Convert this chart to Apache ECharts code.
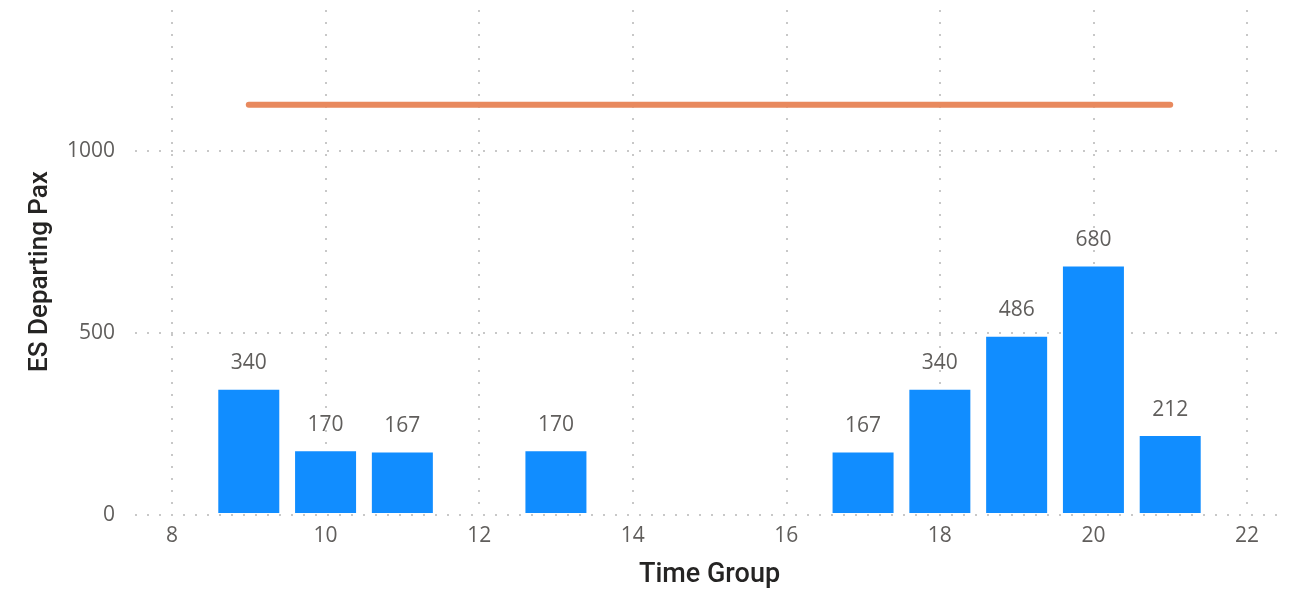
<!DOCTYPE html>
<html>
<head>
<meta charset="utf-8" />
<script src="https://cdn.jsdelivr.net/npm/echarts@6/dist/echarts.min.js"></script>
<style>
  html, body { margin: 0; padding: 0; background: #fff; }
  #myChart { width: 1297px; height: 594px; }
</style>
</head>
<body>
<div id="myChart"></div>
<script>
// data
var timeGroups = [9, 10, 11, 13, 17, 18, 19, 20, 21];
var departingPax = [340, 170, 167, 170, 167, 340, 486, 680, 212];
var targetX = [9, 21];
var targetPax = [1126, 1126];
var yTicks = [0, 500, 1000];
var xTicks = [8, 10, 12, 14, 16, 18, 20, 22];

var labelFont = "'Open Sans', 'Noto Sans', sans-serif";
var titleFont = "Roboto, 'DejaVu Sans', sans-serif";
var yMax = 1387;

var chartDom = echarts.init(document.getElementById("myChart"));
var option = {
  animation: false,
  grid: [
    // wide grid: only carries the horizontal grid lines and y labels
    { left: 135, right: 20, top: 10, bottom: 79 },
    // data grid
    { left: 172, right: 50, top: 10, bottom: 79 },
  ],
  xAxis: [
    {
      gridIndex: 0,
      type: "value",
      min: 0,
      max: 1,
      show: false,
    },
    {
      gridIndex: 1,
      type: "value",
      min: xTicks[0],
      max: xTicks[xTicks.length - 1],
      interval: 2,
      name: "Time Group",
      nameLocation: "middle",
      nameGap: 49,
      nameTextStyle: {
        fontFamily: titleFont,
        fontWeight: 500,
        fontSize: 27,
        color: "#252423",
      },
      axisLine: { show: false },
      axisTick: { show: false },
      axisLabel: {
        margin: 13,
        fontFamily: labelFont,
        fontSize: 21,
        color: "#605E5C",
      },
      splitLine: {
        show: true,
        lineStyle: {
          color: "#C8C8C8",
          type: [2, 10],
          width: 2,
        },
      },
    },
  ],
  yAxis: [
    {
      gridIndex: 0,
      type: "value",
      min: yTicks[0],
      max: yMax,
      interval: 500,
      name: "ES Departing Pax",
      nameLocation: "middle",
      nameGap: 82,
      nameTextStyle: {
        fontFamily: titleFont,
        fontWeight: 500,
        fontSize: 26,
        color: "#252423",
        padding: [0, 18, 0, 0],
      },
      axisLine: { show: false },
      axisTick: { show: false },
      axisLabel: {
        margin: 20,
        showMaxLabel: false,
        fontFamily: labelFont,
        fontSize: 21,
        color: "#605E5C",
        formatter: function (v) {
          return String(v);
        },
      },
      splitLine: {
        show: true,
        showMaxLine: false,
        lineStyle: {
          color: "#C8C8C8",
          type: [2, 10],
          width: 2,
        },
      },
    },
    {
      gridIndex: 1,
      type: "value",
      min: yTicks[0],
      max: yMax,
      show: false,
      splitLine: { show: false },
    },
  ],
  series: [
    {
      name: "ES Departing Pax",
      type: "bar",
      xAxisIndex: 1,
      yAxisIndex: 1,
      barWidth: 61,
      itemStyle: { color: "#118DFF" },
      label: {
        show: true,
        position: "top",
        distance: 16,
        fontFamily: labelFont,
        fontSize: 21,
        color: "#605E5C",
      },
      data: timeGroups.map(function (t, i) {
        return [t, departingPax[i]];
      }),
    },
    {
      name: "Target",
      type: "line",
      xAxisIndex: 1,
      yAxisIndex: 1,
      symbol: "none",
      lineStyle: { color: "#E8895E", width: 6, cap: "round" },
      data: targetX.map(function (t, i) {
        return [t, targetPax[i]];
      }),
    },
  ],
};
chartDom.setOption(option);
</script>
</body>
</html>
